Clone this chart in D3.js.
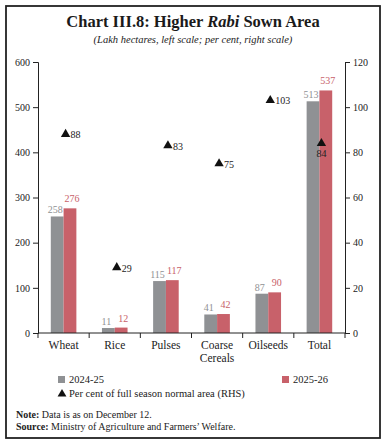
<!DOCTYPE html>
<html>
<head>
<meta charset="utf-8">
<script src="https://cdn.jsdelivr.net/npm/d3@7"></script>
<style>
  body { margin: 0; background: #fff; }
  svg { display: block; }
</style>
</head>
<body>
<div id="chart"></div>
<script>
// data
const categories = ['Wheat', 'Rice', 'Pulses', 'Coarse Cereals', 'Oilseeds', 'Total'];
const area2425 = [258, 11, 115, 41, 87, 513];
const area2526 = [276, 12, 117, 42, 90, 537];
const pctNormal = [88, 29, 83, 75, 103, 84];
const leftTicks = [0, 100, 200, 300, 400, 500, 600];
const rightTicks = [0, 20, 40, 60, 80, 100, 120];

const W = 386, H = 445;
const margin = {top: 62, right: 41, bottom: 112, left: 38};
const font = '"Liberation Serif", serif';
const grey = '#8f9194', red = '#c8616a';

const svg = d3.select('#chart').append('svg')
    .attr('width', W)
    .attr('height', H)
    .style('font-family', font);

// frame
svg.append('rect')
    .attr('x', 6).attr('y', 6)
    .attr('width', 374).attr('height', 432)
    .attr('fill', 'none')
    .attr('stroke', '#222')
    .attr('stroke-width', 1.8);

// title
const title = svg.append('text')
    .attr('x', W / 2).attr('y', 27)
    .attr('text-anchor', 'middle')
    .style('font-size', '16.5px')
    .style('font-weight', 'bold')
    .attr('fill', '#1a1a1a');
title.append('tspan').text('Chart III.8: Higher ');
title.append('tspan').style('font-style', 'italic').text('Rabi');
title.append('tspan').text(' Sown Area');

svg.append('text')
    .attr('x', W / 2).attr('y', 43)
    .attr('text-anchor', 'middle')
    .style('font-size', '10.5px')
    .style('font-style', 'italic')
    .attr('fill', '#222')
    .text('(Lakh hectares, left scale; per cent, right scale)');

// scales
const x = d3.scaleBand()
    .domain(categories)
    .range([margin.left, W - margin.right]);

const xInner = d3.scaleBand()
    .domain(['a', 'b'])
    .range([0, x.bandwidth()])
    .paddingOuter(1);

const yL = d3.scaleLinear()
    .domain([0, 600])
    .range([H - margin.bottom, margin.top]);

const yR = d3.scaleLinear()
    .domain([0, 120])
    .range([H - margin.bottom, margin.top]);

// axes
const gL = svg.append('g')
    .attr('transform', `translate(${margin.left},0)`)
    .call(d3.axisLeft(yL).tickValues(leftTicks).tickSize(5).tickPadding(3));

const gR = svg.append('g')
    .attr('transform', `translate(${W - margin.right},0)`)
    .call(d3.axisRight(yR).tickValues(rightTicks).tickSize(5).tickPadding(3));

[gL, gR].forEach(g => {
    g.select('.domain').attr('stroke', '#222');
    g.selectAll('.tick line').attr('stroke', '#222');
    g.selectAll('.tick text')
        .style('font-family', font)
        .style('font-size', '10px')
        .attr('fill', '#222');
});

// bars
const series = [
    {key: 'a', values: area2425, color: grey, dx: -2, dy: -3},
    {key: 'b', values: area2526, color: red, dx: 2, dy: -6}
];

series.forEach(s => {
    svg.append('g')
        .selectAll('rect')
        .data(categories)
        .join('rect')
        .attr('x', (d, i) => x(d) + xInner(s.key))
        .attr('width', xInner.bandwidth())
        .attr('y', (d, i) => yL(s.values[i]))
        .attr('height', (d, i) => yL(0) - yL(s.values[i]))
        .attr('fill', s.color);

    svg.append('g')
        .selectAll('text')
        .data(categories)
        .join('text')
        .attr('x', (d, i) => x(d) + xInner(s.key) + xInner.bandwidth() / 2 + s.dx)
        .attr('y', (d, i) => yL(s.values[i]) + s.dy)
        .attr('text-anchor', 'middle')
        .style('font-size', '10px')
        .attr('fill', s.color)
        .text((d, i) => s.values[i]);
});

// bottom axis (category boundaries)
const baseY = yL(0);
svg.append('line')
    .attr('x1', margin.left).attr('x2', W - margin.right)
    .attr('y1', baseY).attr('y2', baseY)
    .attr('stroke', '#222');

const bounds = categories.map(d => x(d)).concat([x.range()[1]]);
svg.append('g')
    .selectAll('line')
    .data(bounds)
    .join('line')
    .attr('x1', d => d).attr('x2', d => d)
    .attr('y1', baseY).attr('y2', baseY + 5)
    .attr('stroke', '#222');

svg.append('g')
    .selectAll('text')
    .data(categories)
    .join('text')
    .attr('x', d => x(d) + x.bandwidth() / 2)
    .attr('y', baseY + 16)
    .attr('text-anchor', 'middle')
    .style('font-size', '11.5px')
    .attr('fill', '#222')
    .each(function(d) {
        const parts = d === 'Coarse Cereals' ? ['Coarse', 'Cereals'] : [d];
        d3.select(this).selectAll('tspan')
            .data(parts)
            .join('tspan')
            .attr('x', x(d) + x.bandwidth() / 2)
            .attr('dy', (p, j) => j === 0 ? 0 : 13)
            .text(p => p);
    });

// triangles (right scale)
const tri = d3.symbol().type(d3.symbolTriangle).size(38);
svg.append('g')
    .selectAll('path')
    .data(categories)
    .join('path')
    .attr('transform', (d, i) => `translate(${x(d) + x.bandwidth() / 2 + 2},${yR(pctNormal[i])})`)
    .attr('d', tri)
    .attr('fill', '#111');

svg.append('g')
    .selectAll('text')
    .data(categories)
    .join('text')
    .attr('x', (d, i) => d === 'Total' ? x(d) + x.bandwidth() / 2 + 2 : x(d) + x.bandwidth() / 2 + 7)
    .attr('y', (d, i) => d === 'Total' ? yR(pctNormal[i]) + 14 : yR(pctNormal[i]) + 4)
    .attr('text-anchor', d => d === 'Total' ? 'middle' : 'start')
    .style('font-size', '10px')
    .attr('fill', '#222')
    .text((d, i) => pctNormal[i]);

// legend
const legend = svg.append('g').style('font-size', '10.5px').attr('fill', '#222');
legend.append('rect').attr('x', 58).attr('y', 376).attr('width', 7).attr('height', 7).attr('fill', grey);
legend.append('text').attr('x', 69).attr('y', 383).text('2024-25');
legend.append('rect').attr('x', 282).attr('y', 376).attr('width', 7).attr('height', 7).attr('fill', red);
legend.append('text').attr('x', 293).attr('y', 383).text('2025-26');
legend.append('path')
    .attr('transform', 'translate(62,394)')
    .attr('d', d3.symbol().type(d3.symbolTriangle).size(34))
    .attr('fill', '#111');
legend.append('text').attr('x', 69).attr('y', 397).text('Per cent of full season normal area (RHS)');

// notes
const notes = svg.append('g').style('font-size', '10px').attr('fill', '#222');
const n1 = notes.append('text').attr('x', 16).attr('y', 418);
n1.append('tspan').style('font-weight', 'bold').text('Note:');
n1.append('tspan').text(' Data is as on December 12.');
const n2 = notes.append('text').attr('x', 16).attr('y', 430);
n2.append('tspan').style('font-weight', 'bold').text('Source:');
n2.append('tspan').text(' Ministry of Agriculture and Farmers\u2019 Welfare.');
</script>
</body>
</html>
